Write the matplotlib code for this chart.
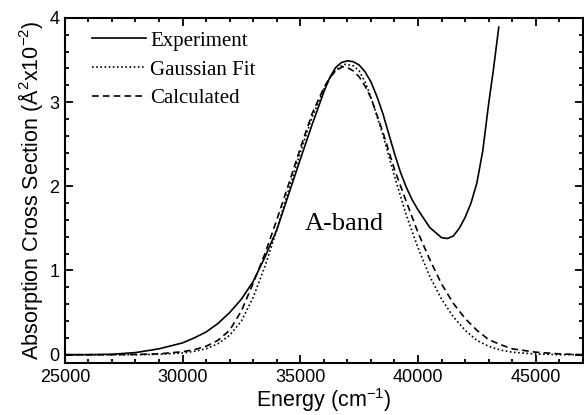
import matplotlib
matplotlib.use("Agg")
import matplotlib.pyplot as plt
from matplotlib.ticker import MultipleLocator

# values
exp_e = [25000, 26000, 27000, 28000, 29000, 30000, 30500, 31000, 31500, 32000,
         32500, 33000, 33500, 34000, 34500, 35000, 35500, 36000, 36250, 36500,
         36750, 37000, 37250, 37500, 37750, 38000, 38250, 38500, 38750, 39000,
         39250, 39500, 39750, 40000, 40500, 41000, 41250, 41500, 41750, 42000,
         42250, 42500, 42750, 43000, 43200, 43430]
exp_y = [0.0, 0.0, 0.005, 0.025, 0.07, 0.14, 0.20, 0.27, 0.37, 0.50,
         0.66, 0.87, 1.16, 1.48, 1.90, 2.32, 2.73, 3.12, 3.29, 3.41,
         3.47, 3.49, 3.48, 3.44, 3.36, 3.24, 3.07, 2.87, 2.63, 2.39,
         2.17, 1.99, 1.84, 1.72, 1.51, 1.39, 1.38, 1.41, 1.50, 1.63,
         1.80, 2.04, 2.42, 2.98, 3.38, 3.89]

gau_e = [25000, 28000, 29000, 30000, 30500, 31000, 31500, 32000, 32500, 33000,
         33500, 34000, 34500, 35000, 35500, 36000, 36250, 36500, 36750, 36935,
         37250, 37500, 37750, 38000, 38500, 39000, 39500, 40000, 40500, 41000,
         41500, 42000, 42500, 43000, 43500, 44000, 45000, 46000, 47000]
gau_y = [0.0, 0.0, 0.005, 0.02, 0.04, 0.07, 0.13, 0.23, 0.40, 0.68,
         1.05, 1.48, 1.95, 2.40, 2.82, 3.15, 3.28, 3.38, 3.43, 3.45,
         3.43, 3.37, 3.24, 3.06, 2.62, 2.12, 1.66, 1.27, 0.93, 0.66,
         0.45, 0.29, 0.17, 0.10, 0.055, 0.03, 0.008, 0.0, 0.0]

calc_e = [25000, 27000, 28000, 29000, 30000, 30500, 31000, 31500, 32000, 32500,
          33000, 33500, 34000, 34500, 35000, 35500, 36000, 36250, 36500, 36800,
          37000, 37250, 37500, 37750, 38000, 38500, 39000, 39500, 40000, 40500,
          41000, 41500, 42000, 42500, 43000, 43500, 44000, 45000, 46000, 47000]
calc_y = [0.0, 0.0, 0.003, 0.01, 0.035, 0.06, 0.10, 0.17, 0.29, 0.52,
          0.85, 1.20, 1.60, 2.02, 2.45, 2.86, 3.17, 3.29, 3.37, 3.42,
          3.41, 3.37, 3.30, 3.19, 3.05, 2.65, 2.20, 1.82, 1.45, 1.13,
          0.84, 0.61, 0.43, 0.29, 0.18, 0.12, 0.07, 0.03, 0.01, 0.0]

plt.rcParams['font.family'] = ['Liberation Sans', 'DejaVu Sans']
plt.rcParams['mathtext.fontset'] = 'custom'
plt.rcParams['mathtext.rm'] = 'Liberation Sans'

fig = plt.figure(figsize=(5.84, 4.15), dpi=100)
ax = fig.add_axes([0.111, 0.125, 0.887, 0.832])

ax.plot(exp_e, exp_y, color='black', lw=1.2, ls='-', label='Experiment')
ax.plot(gau_e, gau_y, color='black', lw=1.2, ls=(0, (1, 1.5)), label='Gaussian Fit')
ax.plot(calc_e, calc_y, color='black', lw=1.2, ls=(0, (4, 2.5)), label='Calculated')

ax.set_xlim(25000, 47000)
ax.set_ylim(-0.1, 4)
ax.xaxis.set_major_locator(MultipleLocator(5000))
ax.xaxis.set_minor_locator(MultipleLocator(1000))
ax.yaxis.set_major_locator(MultipleLocator(1))
ax.yaxis.set_minor_locator(MultipleLocator(0.2))
ax.tick_params(which='both', direction='in', top=True, right=True, width=1.3,
               labelsize=13)
ax.tick_params(which='major', length=6, pad=4)
ax.tick_params(which='minor', length=3)
for s in ax.spines.values():
    s.set_linewidth(1.5)

ax.set_xlabel('Energy (cm$^{-1}$)', fontsize=15.5, labelpad=0)
ax.set_ylabel('Absorption Cross Section ($\\mathregular{\\AA^2}$x10$^{-2}$)',
              fontsize=15.5, labelpad=3)

ax.text(35200, 1.48, 'A-band', family='Liberation Serif', fontsize=19,
        va='baseline')

leg = ax.legend(loc='upper left', bbox_to_anchor=(0.052, 0.962), frameon=False,
                prop={'family': 'Liberation Serif', 'size': 15},
                handlelength=2.6, handletextpad=0.2, labelspacing=0.45,
                borderpad=0, borderaxespad=0)

fig.savefig('out.png', dpi=100)
